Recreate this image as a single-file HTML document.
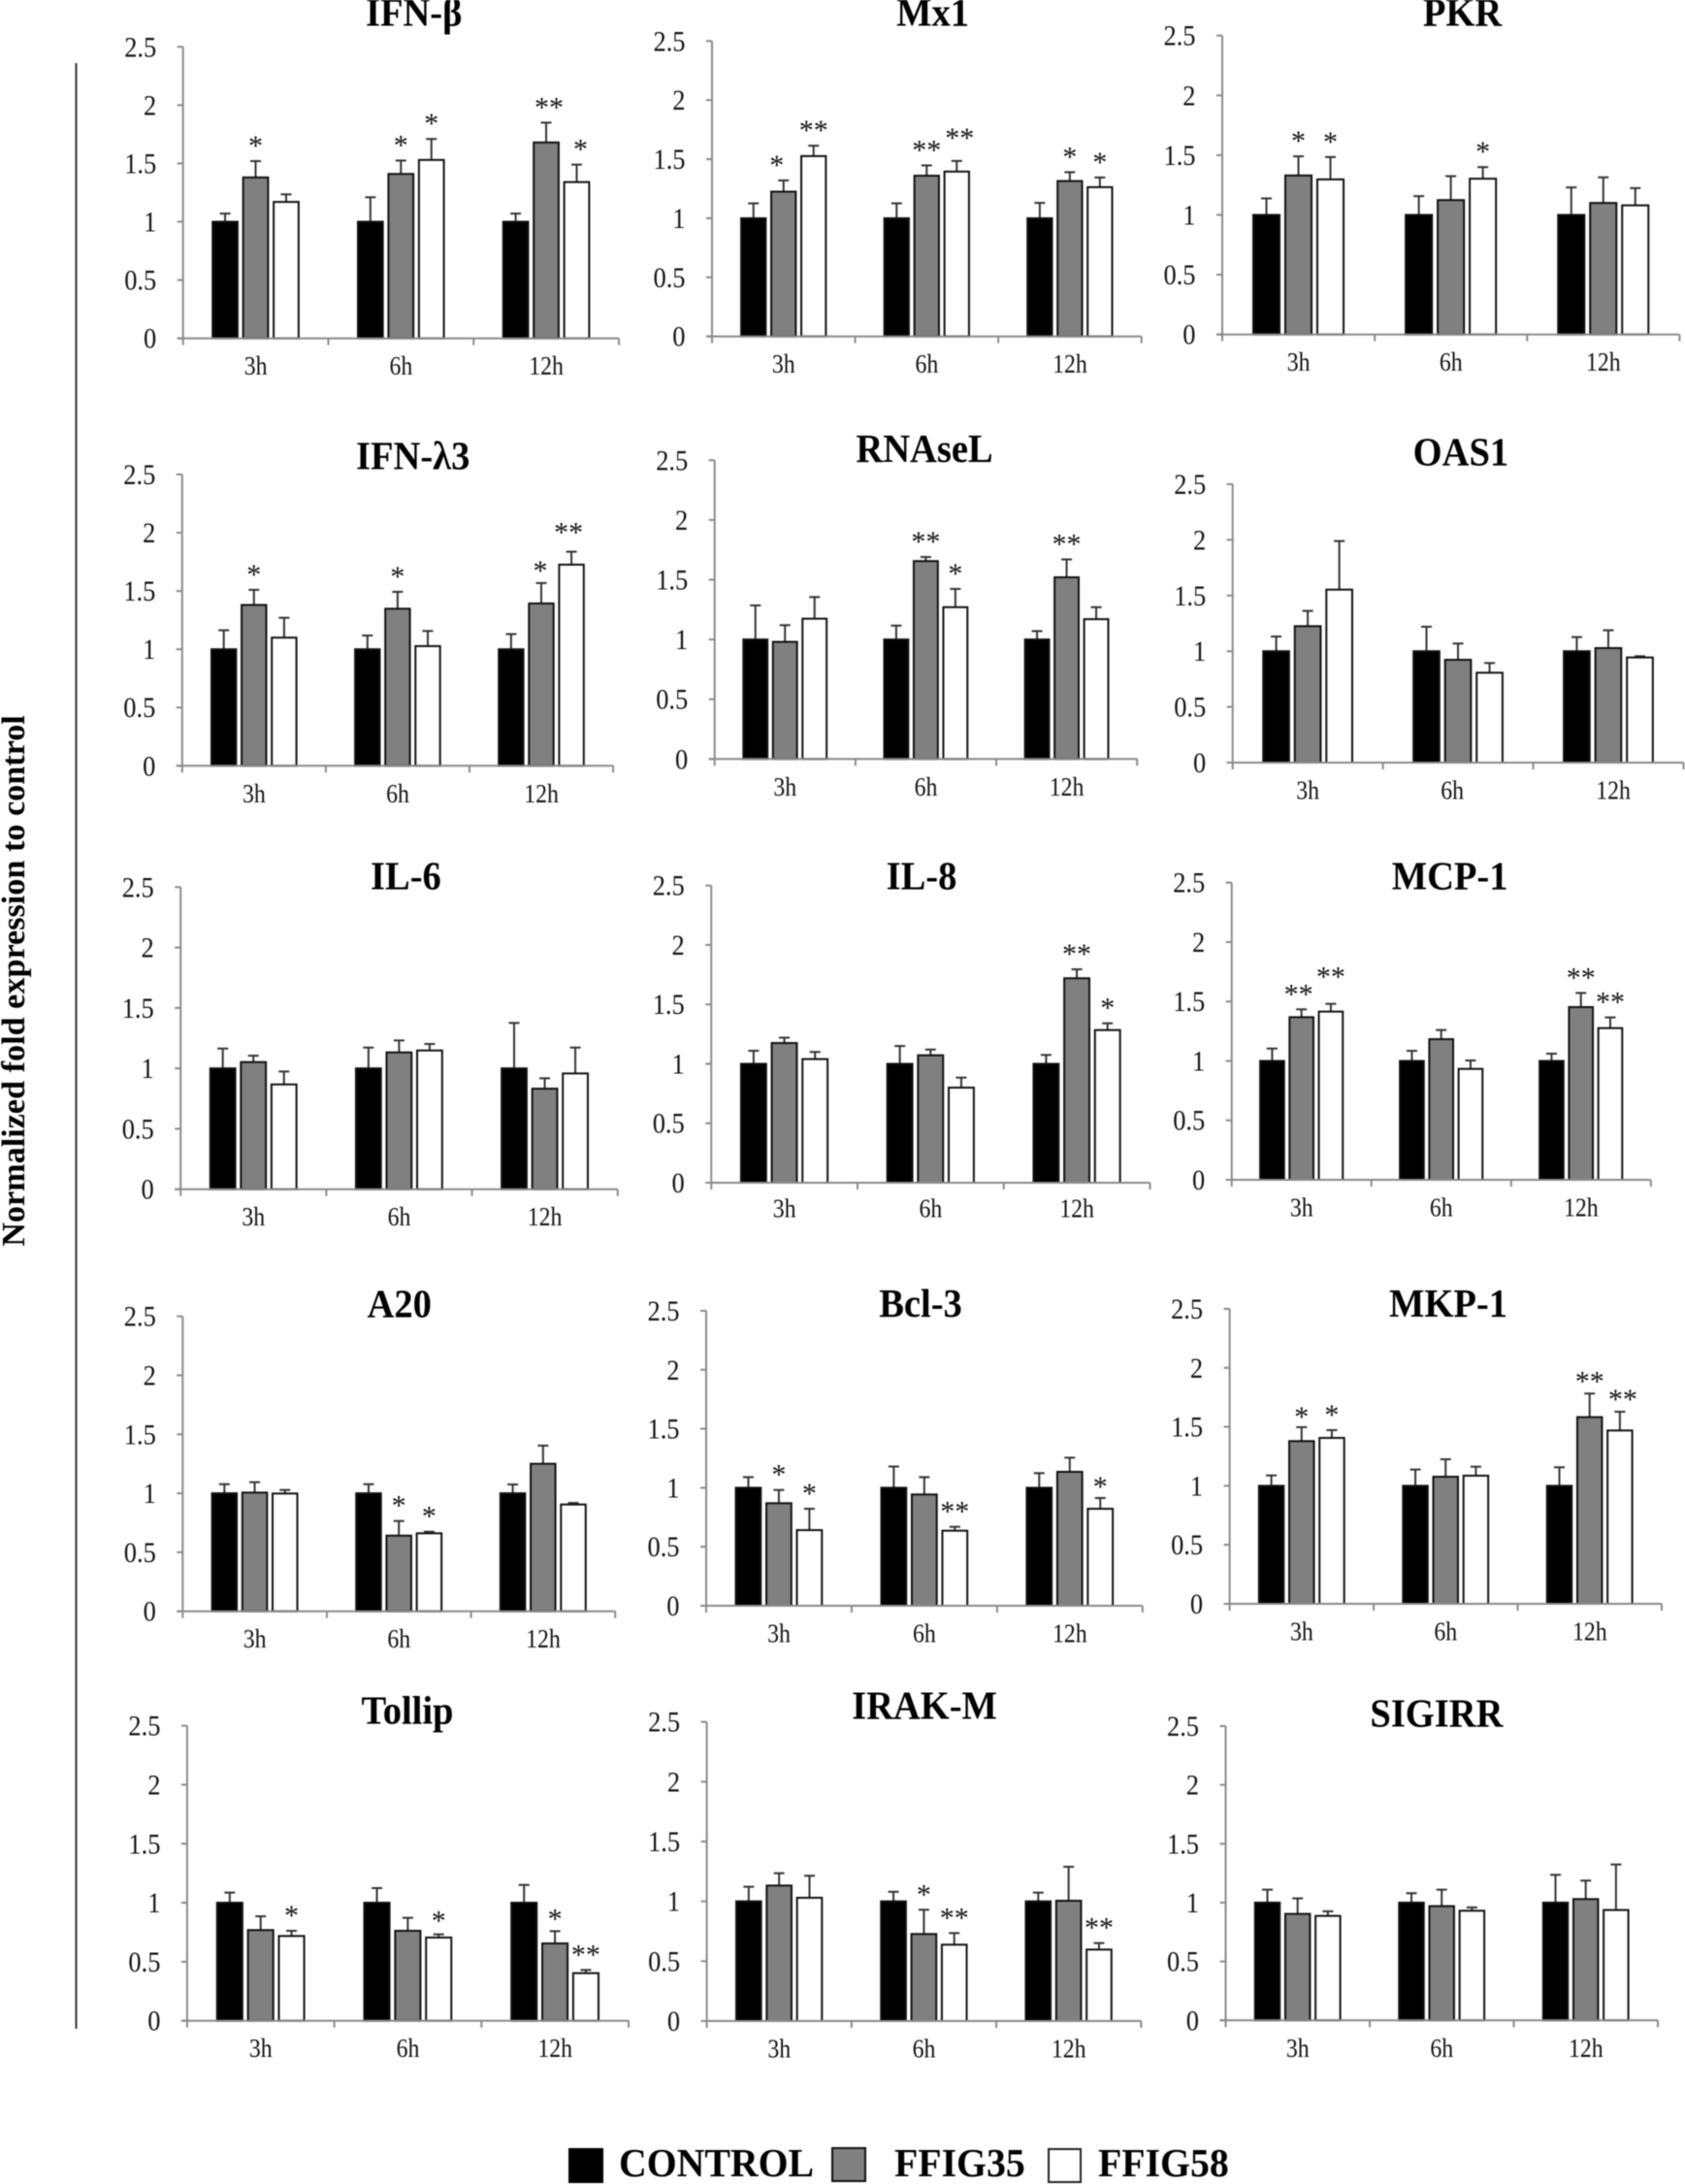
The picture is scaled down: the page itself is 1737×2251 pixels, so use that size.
<!DOCTYPE html>
<html lang="en">
<head>
<meta charset="utf-8">
<title>Normalized fold expression to control</title>
<style>
html,body{margin:0;padding:0;background:#fff;}
svg{display:block;font-family:"Liberation Serif",serif;filter:blur(0.4px);}
</style>
</head>
<body>
<svg id="figure" xmlns="http://www.w3.org/2000/svg" width="1737" height="2251" viewBox="0 0 1737 2251">
  <rect x="0" y="0" width="1737" height="2251" fill="#fff"/>
  <line x1="78.5" y1="65" x2="78.5" y2="2091" stroke="#333" stroke-width="2"/>
  <text transform="translate(25 1011) rotate(-90)" text-anchor="middle" font-size="34.2" font-weight="700" fill="#000">Normalized fold expression to control</text>
  <g>
    <rect x="586" y="2214" width="36" height="36" fill="#000"/>
    <text transform="translate(638 2243) scale(0.97 1)" font-size="41" font-weight="700">CONTROL</text>
    <rect x="858" y="2214" width="34" height="34" fill="#808080" stroke="#111" stroke-width="2"/>
    <text transform="translate(922 2243) scale(0.97 1)" font-size="41" font-weight="700">FFIG35</text>
    <rect x="1081" y="2215" width="33" height="34" fill="#fff" stroke="#222" stroke-width="2"/>
    <text transform="translate(1132 2243) scale(0.97 1)" font-size="41" font-weight="700">FFIG58</text>
  </g>
</svg>
<script>
// Shared labels
const categories = ['3h', '6h', '12h'];
const tickValues = [0, 0.5, 1, 1.5, 2, 2.5];
const tickLabels = ['0', '0.5', '1', '1.5', '2', '2.5'];
const seriesNames = ['control', 'ffig35', 'ffig58'];

// Each row is one time point: control, FFIG35, FFIG58
const ifnBetaMeans = [[1, 1.38, 1.17], [1, 1.41, 1.53], [1, 1.68, 1.34]];
const ifnBetaUpper = [[1.07, 1.52, 1.235], [1.21, 1.525, 1.71], [1.07, 1.85, 1.49]];
const ifnBetaStars = [['', '*', ''], ['', '*', '*'], ['', '**', '*']];

const mx1Means = [[1, 1.225, 1.526], [1, 1.36, 1.395], [1, 1.315, 1.263]];
const mx1Upper = [[1.126, 1.32, 1.614], [1.126, 1.447, 1.485], [1.13, 1.39, 1.345]];
const mx1Stars = [['', '*', '**'], ['', '**', '**'], ['', '*', '*']];

const pkrMeans = [[1, 1.33, 1.297], [1, 1.124, 1.303], [1, 1.1, 1.08]];
const pkrUpper = [[1.138, 1.49, 1.484], [1.157, 1.324, 1.4], [1.23, 1.314, 1.224]];
const pkrStars = [['', '*', '*'], ['', '', '*'], ['', '', '']];

const ifnLambdaMeans = [[1, 1.38, 1.1], [1, 1.348, 1.027], [1, 1.393, 1.726]];
const ifnLambdaUpper = [[1.163, 1.51, 1.27], [1.118, 1.493, 1.157], [1.13, 1.568, 1.837]];
const ifnLambdaStars = [['', '*', ''], ['', '*', ''], ['', '*', '**']];

const rnaseLMeans = [[1, 0.98, 1.174], [1, 1.656, 1.27], [1, 1.52, 1.17]];
const rnaseLUpper = [[1.285, 1.12, 1.355], [1.116, 1.69, 1.423], [1.07, 1.67, 1.27]];
const rnaseLStars = [['', '', ''], ['', '**', '*'], ['', '**', '']];

const oas1Means = [[1, 1.225, 1.553], [1, 0.923, 0.807], [1, 1.028, 0.944]];
const oas1Upper = [[1.132, 1.362, 1.989], [1.22, 1.069, 0.894], [1.127, 1.188, 0.955]];
const oas1Stars = [['', '', ''], ['', '', ''], ['', '', '']];

const il6Means = [[1, 1.052, 0.867], [1, 1.132, 1.148], [1, 0.832, 0.958]];
const il6Upper = [[1.164, 1.105, 0.974], [1.172, 1.231, 1.202], [1.376, 0.918, 1.172]];
const il6Stars = [['', '', ''], ['', '', ''], ['', '', '']];

const il8Means = [[1, 1.175, 1.04], [1, 1.072, 0.8], [1, 1.72, 1.284]];
const il8Upper = [[1.11, 1.22, 1.1], [1.15, 1.12, 0.884], [1.075, 1.795, 1.341]];
const il8Stars = [['', '', ''], ['', '', ''], ['', '**', '*']];

const mcp1Means = [[1, 1.368, 1.415], [1, 1.183, 0.933], [1, 1.453, 1.276]];
const mcp1Upper = [[1.104, 1.434, 1.48], [1.085, 1.26, 1.004], [1.061, 1.572, 1.366]];
const mcp1Stars = [['', '**', '**'], ['', '', ''], ['', '**', '**']];

const a20Means = [[1, 1.006, 0.998], [1, 0.641, 0.661], [1, 1.25, 0.905]];
const a20Upper = [[1.077, 1.094, 1.028], [1.077, 0.765, 0.674], [1.075, 1.404, 0.918]];
const a20Stars = [['', '', ''], ['', '*', '*'], ['', '', '']];

const bcl3Means = [[1, 0.869, 0.641], [1, 0.943, 0.636], [1, 1.135, 0.822]];
const bcl3Upper = [[1.09, 0.981, 0.822], [1.18, 1.09, 0.669], [1.124, 1.255, 0.913]];
const bcl3Stars = [['', '*', '*'], ['', '', '**'], ['', '', '*']];

const mkp1Means = [[1, 1.379, 1.406], [1, 1.077, 1.086], [1, 1.582, 1.469]];
const mkp1Upper = [[1.088, 1.497, 1.472], [1.138, 1.225, 1.162], [1.157, 1.782, 1.628]];
const mkp1Stars = [['', '*', '*'], ['', '', ''], ['', '**', '**']];

const tollipMeans = [[1, 0.768, 0.718], [1, 0.762, 0.705], [1, 0.655, 0.403]];
const tollipUpper = [[1.086, 0.885, 0.762], [1.124, 0.872, 0.732], [1.151, 0.759, 0.43]];
const tollipStars = [['', '', '*'], ['', '', '*'], ['', '*', '**']];

const irakMMeans = [[1, 1.132, 1.03], [1, 0.727, 0.638], [1, 1.005, 0.597]];
const irakMUpper = [[1.122, 1.235, 1.214], [1.08, 0.93, 0.735], [1.073, 1.289, 0.651]];
const irakMStars = [['', '', ''], ['', '*', '**'], ['', '', '**']];

const sigirrMeans = [[1, 0.904, 0.887], [1, 0.97, 0.931], [1, 1.03, 0.937]];
const sigirrUpper = [[1.11, 1.036, 0.926], [1.08, 1.11, 0.959], [1.236, 1.187, 1.324]];
const sigirrStars = [['', '', ''], ['', '', ''], ['', '', '']];

const geneTitles = ['IFN-β', 'Mx1', 'PKR', 'IFN-λ3', 'RNAseL', 'OAS1', 'IL-6', 'IL-8', 'MCP-1', 'A20', 'Bcl-3', 'MKP-1', 'Tollip', 'IRAK-M', 'SIGIRR'];
const geneMeans = [ifnBetaMeans, mx1Means, pkrMeans, ifnLambdaMeans, rnaseLMeans, oas1Means, il6Means, il8Means, mcp1Means, a20Means, bcl3Means, mkp1Means, tollipMeans, irakMMeans, sigirrMeans];
const geneUpper = [ifnBetaUpper, mx1Upper, pkrUpper, ifnLambdaUpper, rnaseLUpper, oas1Upper, il6Upper, il8Upper, mcp1Upper, a20Upper, bcl3Upper, mkp1Upper, tollipUpper, irakMUpper, sigirrUpper];
const geneStars = [ifnBetaStars, mx1Stars, pkrStars, ifnLambdaStars, rnaseLStars, oas1Stars, il6Stars, il8Stars, mcp1Stars, a20Stars, bcl3Stars, mkp1Stars, tollipStars, irakMStars, sigirrStars];

// Plot frames (layout only): left, right, top of axis, bottom of axis, title centre, title baseline
const frames = [
  {l: 188.7, r: 638, t: 48.3, b: 348.7, tx: 426.7, ty: 26.7},
  {l: 734, r: 1176.7, t: 42.3, b: 346.7, tx: 961.6, ty: 26.7},
  {l: 1260, r: 1731.4, t: 36.7, b: 344.7, tx: 1507.5, ty: 26.7},
  {l: 187.8, r: 632.1, t: 489, b: 789.3, tx: 425.7, ty: 483.3},
  {l: 736.7, r: 1172.2, t: 474.3, b: 782.3, tx: 953, ty: 476},
  {l: 1270.7, r: 1735.5, t: 499, b: 786, tx: 1505.9, ty: 479.3},
  {l: 186.2, r: 636.7, t: 914.3, b: 1225.7, tx: 418.4, ty: 916.7},
  {l: 733.2, r: 1185.5, t: 912.7, b: 1219, tx: 950, ty: 916.7},
  {l: 1269.7, r: 1701.8, t: 909.7, b: 1216, tx: 1494.6, ty: 916.7},
  {l: 188.3, r: 634.2, t: 1356.7, b: 1660.7, tx: 411.7, ty: 1357.7},
  {l: 728, r: 1177.8, t: 1351, b: 1655, tx: 949, ty: 1357},
  {l: 1267.6, r: 1713, t: 1349, b: 1653, tx: 1493, ty: 1357},
  {l: 192.9, r: 648, t: 1778.7, b: 2082.7, tx: 420, ty: 1776.7},
  {l: 728.6, r: 1176.3, t: 1774.7, b: 2083, tx: 953, ty: 1771.7},
  {l: 1263.5, r: 1709, t: 1779, b: 2082.3, tx: 1480.9, ty: 1779.3}
];

// Hand-placed annotation offsets (layout only), keyed panel-time-series, in pixels
const starNudges = {
  '0-2-1': [3, 0], '0-2-2': [4, 0],
  '1-0-1': [-7, 0], '1-1-2': [3, -8],
  '3-2-1': [-1, 3], '3-2-2': [-3, -4],
  '8-0-1': [-3, 0], '8-0-2': [0, -12],
  '10-2-2': [0, 4],
  '11-0-1': [0, 5], '11-2-1': [0, 3], '11-2-2': [3, 3],
  '12-1-2': [0, 2], '12-2-1': [0, 3]
};
const labelNudges = {'5-1': [-6, 0], '5-2': [5, 0], '7-0': [0, -2], '7-1': [0, -2], '7-2': [0, -2]};

const NS = 'http://www.w3.org/2000/svg';
const root = document.getElementById('figure');
const FILLS = {control: '#000000', ffig35: '#808080', ffig58: '#ffffff'};

function make(tag, parent, attrs, text) {
  const el = document.createElementNS(NS, tag);
  for (const k in attrs) el.setAttribute(k, attrs[k]);
  if (text !== undefined) el.textContent = text;
  parent.appendChild(el);
  return el;
}

function placed(x, y, sx) {
  return 'translate(' + x + ' ' + y + ') scale(' + sx + ' 1)';
}

function drawPanel(idx) {
  const f = frames[idx];
  const title = geneTitles[idx];
  const means = geneMeans[idx];
  const upper = geneUpper[idx];
  const stars = geneStars[idx];
  const yScale = function (v) { return f.b - (v / 2.5) * (f.b - f.t); };
  const catW = (f.r - f.l) / categories.length;
  const xBar = function (c, s) { return f.l + catW * (c + 0.197 + 0.21 * s); };
  const barW = catW * 0.185;

  const g = make('g', root, {});
  
  

  const t = make('text', g, {transform: placed(f.tx, f.ty, 0.94), 'text-anchor': 'middle', 'font-size': 41, 'font-weight': 700, fill: '#000'}, title);
  
  

  const yAxis = make('line', g, {x1: f.l, y1: f.t, x2: f.l, y2: f.b, stroke: '#8a8a8a', 'stroke-width': 2});
  
  

  tickValues.forEach(function (v, i) {
    const y = yScale(v);
    const tick = make('line', g, {x1: f.l - 6, y1: y, x2: f.l, y2: y, stroke: '#8a8a8a', 'stroke-width': 2});
    
    
    const lab = make('text', g, {transform: placed(f.l - 27.5, y + 10, 0.88), 'text-anchor': 'end', 'font-size': 30, fill: '#111'}, tickLabels[i]);
    
    
  });

  categories.forEach(function (cat, c) {
    means[c].forEach(function (m, s) {
      const x = xBar(c, s);
      const top = yScale(m);
      const up = yScale(upper[c][s]);
      const cx = x + barW / 2;

      const stem = make('line', g, {x1: cx, y1: top, x2: cx, y2: up, stroke: '#333', 'stroke-width': 2});
      
      
      const cap = make('line', g, {x1: cx - 5.5, y1: up, x2: cx + 5.5, y2: up, stroke: '#333', 'stroke-width': 2});
      
      

      const bar = make('rect', g, {x: x + 1, y: top, width: barW - 2, height: f.b - top, fill: FILLS[seriesNames[s]], stroke: '#111', 'stroke-width': 2});
      
      

      if (stars[c][s]) {
        const nudge = starNudges[idx + '-' + c + '-' + s] || [0, 0];
        const star = make('text', g, {x: cx + nudge[0], y: up - 6 + nudge[1], 'text-anchor': 'middle', 'font-size': 30, fill: '#111'}, stars[c][s]);
        
        
      }
    });

    const x0 = f.l + catW * c;
    const tick = make('line', g, {x1: x0, y1: f.b, x2: x0, y2: f.b + 7, stroke: '#8a8a8a', 'stroke-width': 2});
    
    

    const ln = labelNudges[idx + '-' + c] || [0, 0];
    const lab = make('text', g, {transform: placed(x0 + catW / 2 + ln[0], f.b + 37.5 + ln[1], 0.88), 'text-anchor': 'middle', 'font-size': 27, fill: '#111'}, cat);
    
    
  });

  const endTick = make('line', g, {x1: f.r, y1: f.b, x2: f.r, y2: f.b + 7, stroke: '#8a8a8a', 'stroke-width': 2});
  
  

  const xAxis = make('line', g, {x1: f.l - 6, y1: f.b, x2: f.r, y2: f.b, stroke: '#8a8a8a', 'stroke-width': 2});
  
  
}

geneTitles.forEach(function (_, i) { drawPanel(i); });
</script>
</body>
</html>
